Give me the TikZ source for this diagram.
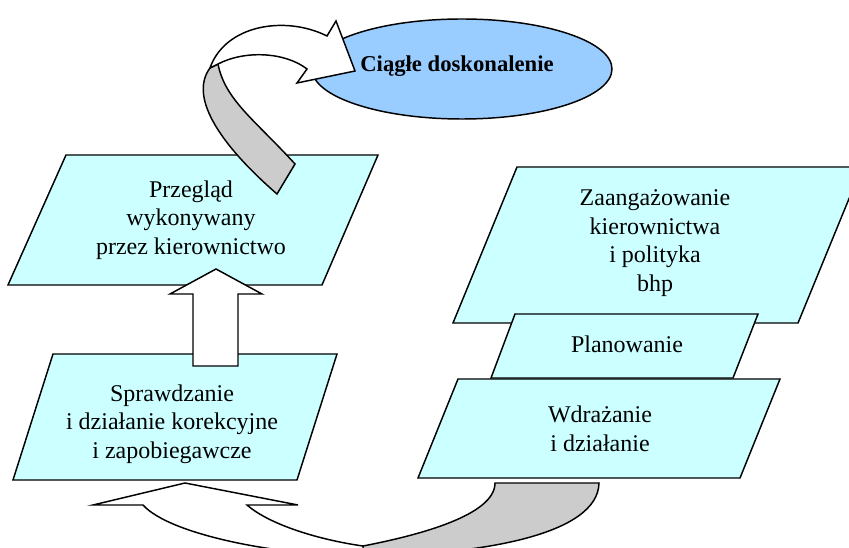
\documentclass[tikz,border=0pt]{standalone}
\usepackage{fontspec}
\setmainfont{Liberation Serif}
\definecolor{boxfill}{HTML}{CCFFFF}
\definecolor{ellfill}{HTML}{99CCFF}
\definecolor{ribbongray}{HTML}{CCCCCC}
\begin{document}
\begin{tikzpicture}[x=0.75pt,y=-0.75pt,
  shapeline/.style={draw=black,line width=1.1pt,line join=miter},
  para/.style={shapeline,fill=boxfill},
  blockarrow/.style={shapeline,fill=white},
  backside/.style={shapeline,fill=ribbongray},
  label/.style={align=center,font=\fontsize{18}{21.4}\selectfont,inner sep=0pt}]
\useasboundingbox (0,0) rectangle (849,548);
\clip (0,0) rectangle (849,548);

% ellipse
\draw[shapeline,fill=ellfill] (462,69) ellipse [x radius=150, y radius=50];
\node[font=\fontsize{17}{20}\selectfont\bfseries,inner sep=0pt] (ciagle) at (457,66) {Ciągłe doskonalenie};

% parallelograms
\draw[para] (66,155) -- (378,155) -- (322,285) -- (8,285) -- cycle;
\node[label] (przeglad) at (191,220) {Przegląd\\wykonywany\\przez kierownictwo};

\draw[para] (53,354) -- (337,354) -- (297,480) -- (13,480) -- cycle;
\node[label] (sprawdzanie) at (172,424) {Sprawdzanie\\i działanie korekcyjne\\i zapobiegawcze};

\draw[para] (517,167) -- (862,167) -- (798,323) -- (453,323) -- cycle;
\node[label] (zaang) at (655,243) {Zaangażowanie\\kierownictwa\\i polityka\\bhp};

\draw[para] (515,314) -- (758,314) -- (733,378) -- (491,378) -- cycle;
\node[label] (plan) at (627,344) {Planowanie};

\draw[para] (458,379) -- (780,379) -- (740,478) -- (418,478) -- cycle;
\node[label] (wdraz) at (600,429) {Wdrażanie\\i działanie};

% top curved arrow: gray back side
\draw[backside] (277,194) -- (295,164)
  .. controls (255,120) and (225,100) .. (218,64)
  -- (210,68)
  .. controls (190,95) and (215,140) .. (277,194) -- cycle;
% top curved arrow: white front side with head
\draw[blockarrow] (210,68)
  .. controls (225,25) and (285,15) .. (327,36)
  -- (336,21) -- (355,71) -- (297,83) -- (307,69)
  .. controls (285,52) and (245,50) .. (218,64)
  -- cycle;

% straight up arrow
\draw[blockarrow] (193,366) -- (193,294) -- (170,294) -- (216,269) -- (262,294) -- (238,294) -- (238,366) -- cycle;

% bottom curved arrow: gray back side
\draw[backside] (495,483) -- (599,483)
  .. controls (598,535) and (480,555) .. (363,556)
  -- (363,546)
  .. controls (420,535) and (495,515) .. (495,483) -- cycle;
% bottom curved arrow: white front side with head
\draw[blockarrow] (185,483) -- (298,505) -- (247,505)
  .. controls (270,525) and (320,540) .. (363,546)
  -- (363,556)
  .. controls (280,556) and (170,535) .. (143,505)
  -- (93,505) -- cycle;
\end{tikzpicture}
\end{document}
